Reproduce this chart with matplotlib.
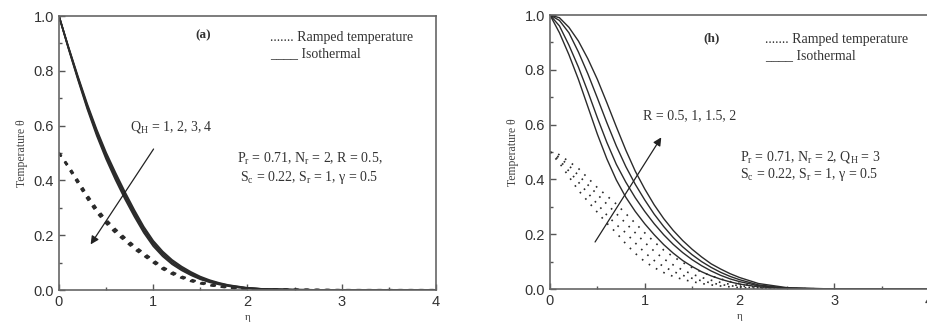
import matplotlib.pyplot as plt

# eta grid shared by every curve
eta = [0.0, 0.1, 0.2, 0.3, 0.4, 0.5, 0.6, 0.7, 0.8, 0.9, 1.0, 1.1, 1.2, 1.3,
       1.4, 1.5, 1.6, 1.7, 1.8, 1.9, 2.0, 2.2, 2.5, 3.0, 4.0]

# (a) isothermal, Q_H = 1, 2, 3, 4
iso_a = [
    [1.0, 0.888, 0.781, 0.679, 0.586, 0.502, 0.428, 0.358, 0.292, 0.231, 0.180, 0.141, 0.110,
     0.086, 0.066, 0.049, 0.036, 0.026, 0.018, 0.013, 0.008, 0.003, 0.001, 0, 0],
    [1.0, 0.886, 0.777, 0.673, 0.579, 0.494, 0.419, 0.349, 0.284, 0.224, 0.173, 0.135, 0.105,
     0.081, 0.062, 0.046, 0.033, 0.024, 0.017, 0.012, 0.007, 0.003, 0.001, 0, 0],
    [1.0, 0.884, 0.773, 0.667, 0.571, 0.486, 0.411, 0.341, 0.276, 0.216, 0.167, 0.129, 0.099,
     0.077, 0.058, 0.042, 0.031, 0.022, 0.015, 0.010, 0.007, 0.003, 0.001, 0, 0],
    [1.0, 0.882, 0.769, 0.661, 0.564, 0.478, 0.402, 0.332, 0.268, 0.209, 0.160, 0.123, 0.094,
     0.072, 0.054, 0.039, 0.028, 0.020, 0.014, 0.009, 0.006, 0.003, 0.001, 0, 0],
]
# (a) ramped temperature, Q_H = 1, 2, 3, 4
ramp_a = [
    [0.5, 0.454, 0.401, 0.347, 0.297, 0.257, 0.222, 0.191, 0.161, 0.135, 0.110, 0.084, 0.066,
     0.050, 0.038, 0.028, 0.021, 0.014, 0.010, 0.007, 0.004, 0.002, 0.001, 0, 0],
    [0.5, 0.451, 0.397, 0.342, 0.292, 0.252, 0.217, 0.187, 0.157, 0.132, 0.107, 0.081, 0.063,
     0.048, 0.036, 0.027, 0.020, 0.013, 0.009, 0.006, 0.004, 0.002, 0.001, 0, 0],
    [0.5, 0.449, 0.393, 0.338, 0.288, 0.248, 0.213, 0.183, 0.153, 0.128, 0.103, 0.079, 0.061,
     0.046, 0.034, 0.025, 0.018, 0.013, 0.009, 0.006, 0.004, 0.002, 0.001, 0, 0],
    [0.5, 0.446, 0.389, 0.333, 0.283, 0.243, 0.208, 0.179, 0.149, 0.125, 0.100, 0.076, 0.058,
     0.044, 0.032, 0.024, 0.017, 0.012, 0.008, 0.005, 0.004, 0.002, 0.001, 0, 0],
]

# (h) isothermal, R = 0.5, 1, 1.5, 2
iso_h = [
    [1.0, 0.935, 0.855, 0.765, 0.665, 0.565, 0.475, 0.398, 0.335, 0.283, 0.238, 0.198, 0.162,
     0.131, 0.104, 0.082, 0.063, 0.048, 0.036, 0.026, 0.018, 0.008, 0.002, 0, 0],
    [1.0, 0.960, 0.890, 0.810, 0.720, 0.625, 0.535, 0.455, 0.390, 0.333, 0.283, 0.238, 0.198,
     0.163, 0.133, 0.107, 0.085, 0.066, 0.050, 0.037, 0.027, 0.012, 0.002, 0, 0],
    [1.0, 0.980, 0.935, 0.865, 0.785, 0.697, 0.607, 0.522, 0.447, 0.382, 0.325, 0.273, 0.228,
     0.188, 0.154, 0.125, 0.100, 0.079, 0.061, 0.046, 0.034, 0.015, 0.003, 0, 0],
    [1.0, 0.990, 0.955, 0.905, 0.840, 0.765, 0.680, 0.592, 0.507, 0.430, 0.365, 0.307, 0.257,
     0.214, 0.177, 0.145, 0.117, 0.092, 0.073, 0.056, 0.042, 0.020, 0.005, 0, 0],
]
# (h) ramped temperature, R = 0.5, 1, 1.5, 2
ramp_h = [
    [0.5, 0.460, 0.410, 0.360, 0.320, 0.280, 0.240, 0.205, 0.165, 0.130, 0.100, 0.078, 0.060,
     0.046, 0.035, 0.027, 0.020, 0.015, 0.011, 0.008, 0.005, 0.003, 0.001, 0, 0],
    [0.5, 0.470, 0.430, 0.390, 0.350, 0.310, 0.270, 0.235, 0.205, 0.168, 0.133, 0.104, 0.082,
     0.064, 0.050, 0.039, 0.030, 0.022, 0.016, 0.012, 0.008, 0.004, 0.001, 0, 0],
    [0.5, 0.480, 0.450, 0.415, 0.380, 0.345, 0.310, 0.275, 0.240, 0.205, 0.170, 0.138, 0.110,
     0.088, 0.069, 0.054, 0.042, 0.032, 0.024, 0.017, 0.012, 0.006, 0.001, 0, 0],
    [0.5, 0.490, 0.465, 0.440, 0.405, 0.370, 0.340, 0.310, 0.275, 0.240, 0.205, 0.172, 0.142,
     0.118, 0.097, 0.078, 0.062, 0.048, 0.037, 0.027, 0.020, 0.009, 0.002, 0, 0],
]

LINE = '#2b2b2b'
TXT = '#333333'
SERIF = 'Liberation Serif'
SANS = 'Liberation Sans'
FS = 10


def style_axes(ax):
    ax.set_xlim(0, 4)
    ax.set_ylim(0, 1.0)
    ax.set_xticks([0, 1, 2, 3, 4])
    ax.set_xticks([0.5, 1.5, 2.5, 3.5], minor=True)
    ax.set_yticks([0, 0.2, 0.4, 0.6, 0.8, 1.0])
    ax.set_yticks([0.1, 0.3, 0.5, 0.7, 0.9], minor=True)
    ax.set_xticklabels(['0', '1', '2', '3', '4'])
    ax.set_yticklabels(['0.0', '0.2', '0.4', '0.6', '0.8', '1.0'])
    ax.tick_params(which='both', direction='in', top=False, right=False,
                   colors='#555555', labelcolor=TXT, labelsize=10.5, width=1.0)
    ax.tick_params(which='major', length=4)
    ax.tick_params(which='minor', length=2.5)
    for lab in ax.get_xticklabels() + ax.get_yticklabels():
        lab.set_fontfamily(SANS)
    for sp in ax.spines.values():
        sp.set_color('#666666')
        sp.set_linewidth(1.2)
    ax.set_xlabel('η', fontsize=8, family=SERIF, color='#444444', labelpad=3)
    ax.set_ylabel('Temperature θ', fontsize=8.5, family=SERIF, color='#444444', labelpad=4)


fig = plt.figure(figsize=(9.27, 3.32), dpi=100)
ax1 = fig.add_axes([0.0636, 0.1265, 0.4067, 0.8253])
ax2 = fig.add_axes([0.5933, 0.1295, 0.4089, 0.8253])

# panel (a)
for ys in iso_a:
    ax1.plot(eta, ys, color=LINE, lw=1.2)
for ys in ramp_a:
    ax1.plot(eta, ys, color=LINE, lw=1.5, linestyle=(0, (2.0, 3.0)))
style_axes(ax1)

ax1.text(1.53, 0.93, '(a)', fontsize=9.5, family=SERIF, fontweight='bold',
         color=TXT, ha='center', va='center')
ax1.text(2.24, 0.923, '....... Ramped temperature', fontsize=FS, family=SERIF,
         color=TXT, va='center')
ax1.text(2.24, 0.862, '____ Isothermal', fontsize=FS, family=SERIF,
         color=TXT, va='center')
ax1.text(0.75, 0.595, r'Q$_{\mathregular{H}}$ = 1, 2, 3, 4', fontsize=FS, family=SERIF,
         color=TXT, va='center')
ax1.annotate('', xy=(0.32, 0.158), xytext=(1.02, 0.523),
             arrowprops=dict(arrowstyle='-|>', color='#222222', lw=0.9, mutation_scale=12))
ax1.text(1.89, 0.48, r'P$_{\mathregular{r}}$ = 0.71, N$_{\mathregular{r}}$ = 2, R = 0.5,',
         fontsize=FS, family=SERIF, color=TXT, va='center')
ax1.text(1.92, 0.41, r'S$_{\mathregular{c}}$ = 0.22, S$_{\mathregular{r}}$ = 1, γ = 0.5',
         fontsize=FS, family=SERIF, color=TXT, va='center')

# panel (h)
for ys in iso_h:
    ax2.plot(eta, ys, color=LINE, lw=1.0)
for ys in ramp_h:
    ax2.plot(eta, ys, color=LINE, lw=1.2, linestyle=(0, (1.0, 4.0)))
style_axes(ax2)

ax2.text(1.71, 0.915, '(h)', fontsize=9.5, family=SERIF, fontweight='bold',
         color=TXT, ha='center', va='center')
ax2.text(2.27, 0.911, '....... Ramped temperature', fontsize=FS, family=SERIF,
         color=TXT, va='center')
ax2.text(2.27, 0.85, '____ Isothermal', fontsize=FS, family=SERIF,
         color=TXT, va='center')
ax2.text(0.98, 0.631, 'R = 0.5, 1, 1.5, 2', fontsize=FS, family=SERIF,
         color=TXT, va='center')
ax2.annotate('', xy=(1.19, 0.562), xytext=(0.46, 0.163),
             arrowprops=dict(arrowstyle='-|>', color='#222222', lw=0.9, mutation_scale=12))
ax2.text(2.0, 0.483, r'P$_{\mathregular{r}}$ = 0.71, N$_{\mathregular{r}}$ = 2, Q$_{\mathregular{H}}$ = 3',
         fontsize=FS, family=SERIF, color=TXT, va='center')
ax2.text(2.0, 0.419, r'S$_{\mathregular{c}}$ = 0.22, S$_{\mathregular{r}}$ = 1, γ = 0.5',
         fontsize=FS, family=SERIF, color=TXT, va='center')

fig.savefig('out.png', dpi=100)
